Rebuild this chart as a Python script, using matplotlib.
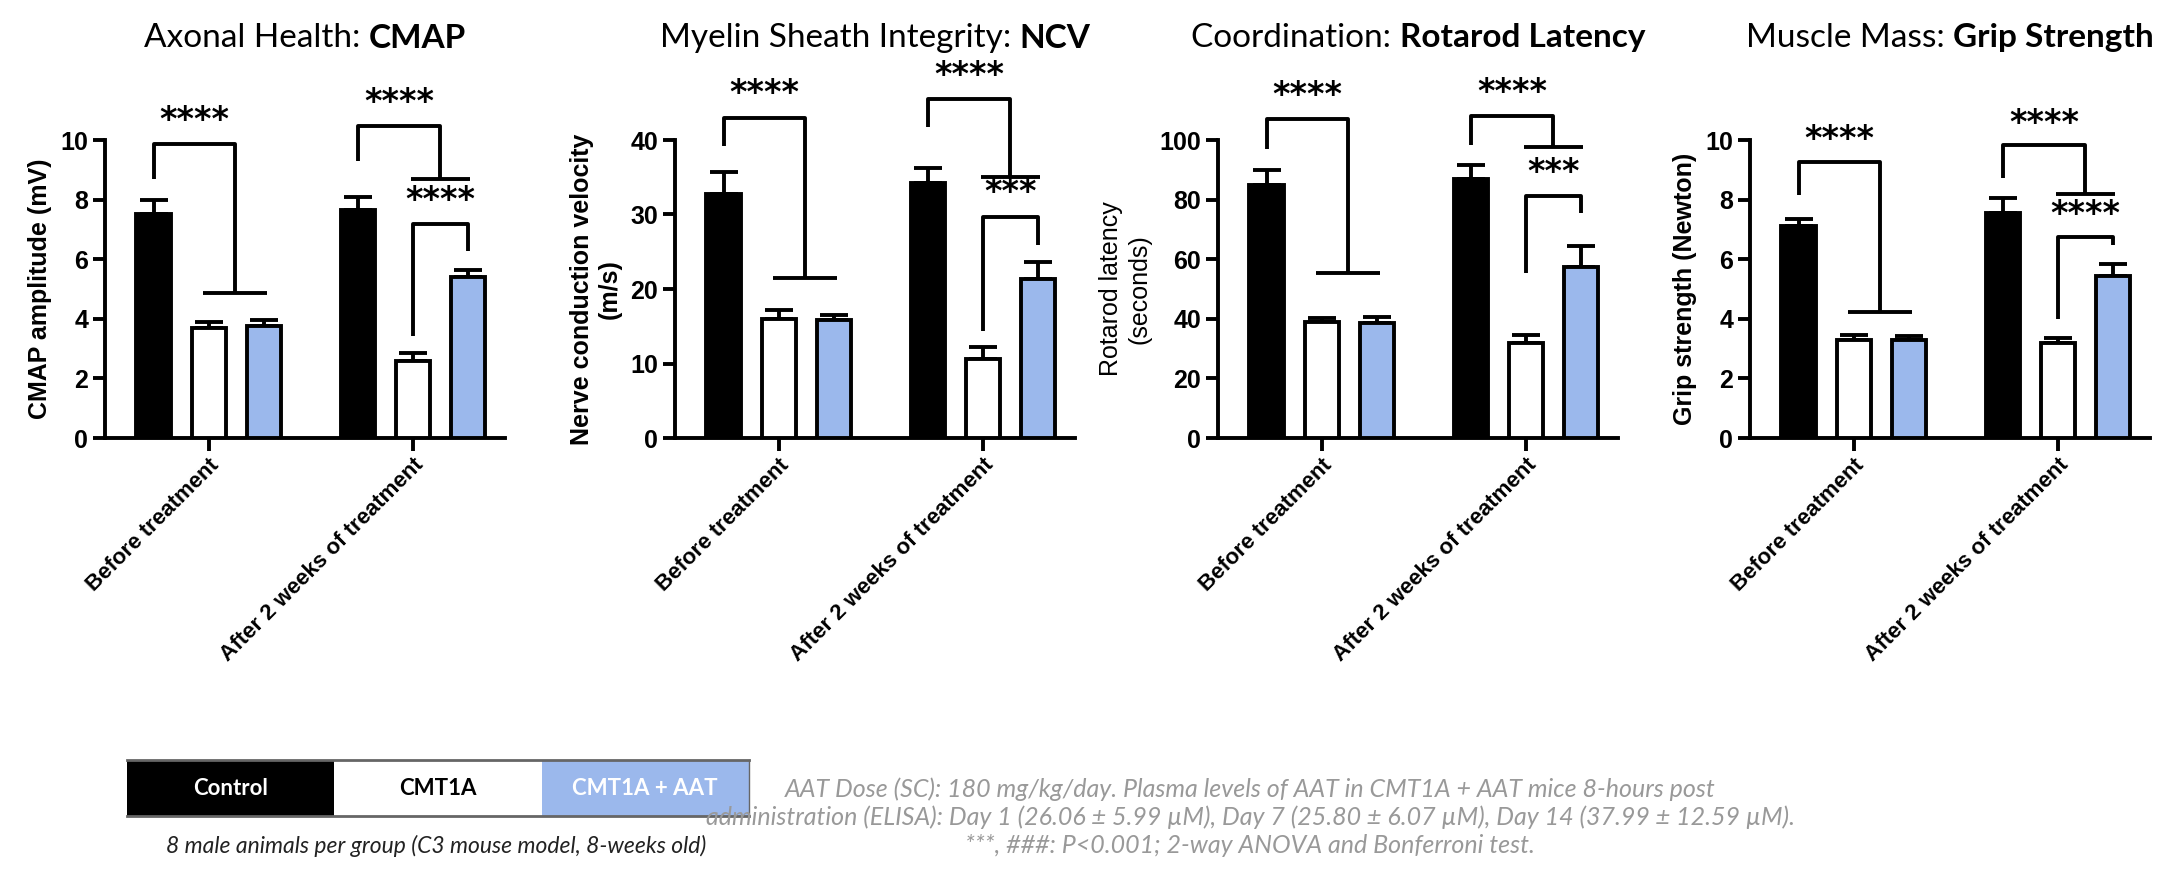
import matplotlib
matplotlib.use("Agg")
import matplotlib.pyplot as plt
from matplotlib.patches import Rectangle
import numpy as np

groups = ["Before treatment", "After 2 weeks of treatment"]
series = ["Control", "CMT1A", "CMT1A + AAT"]
colors = ["black", "white", "#9bb8ec"]

# means and (upper) SEM per panel, [before, after] x [control, cmt1a, cmt1a+aat]
cmap_mean = [[7.5, 3.7, 3.75], [7.65, 2.6, 5.4]]
cmap_err = [[0.5, 0.2, 0.2], [0.45, 0.25, 0.25]]
ncv_mean = [[32.7, 16.0, 15.8], [34.2, 10.6, 21.3]]
ncv_err = [[3.0, 1.2, 0.7], [2.1, 1.6, 2.3]]
rot_mean = [[85, 38.8, 38.5], [87, 32, 57.5]]
rot_err = [[5, 1.6, 2.0], [4.5, 2.5, 7.0]]
grip_mean = [[7.1, 3.3, 3.3], [7.55, 3.2, 5.45]]
grip_err = [[0.25, 0.15, 0.12], [0.5, 0.15, 0.4]]

panels = [
    dict(pre="Axonal Health: ", bold="CMAP", ylabel="CMAP amplitude (mV)",
         ylw="bold", ymax=10, ticks=[0, 2, 4, 6, 8, 10],
         mean=cmap_mean, err=cmap_err,
         # bracket levels: g1 leg, top, drop, stars | g2 leg, top, drop, stars | inner left, top, right, stars
         b1=[8.7, 9.87, 4.86, 10.1], b2=[9.3, 10.47, 8.69, 10.7],
         b3=[3.41, 7.18, 6.26, 7.4], s3="****"),
    dict(pre="Myelin Sheath Integrity: ", bold="NCV",
         ylabel="Nerve conduction velocity\n(m/s)", ylw="bold", ymax=40,
         ticks=[0, 10, 20, 30, 40], mean=ncv_mean, err=ncv_err,
         b1=[39.2, 43.0, 21.5, 44.0], b2=[41.7, 45.5, 35.1, 46.5],
         b3=[14.3, 29.7, 25.9, 30.7], s3="***"),
    dict(pre="Coordination: ", bold="Rotarod Latency",
         ylabel="Rotarod latency\n(seconds)", ylw="normal", ymax=100,
         ticks=[0, 20, 40, 60, 80, 100], mean=rot_mean, err=rot_err,
         b1=[97, 107, 55.5, 109.5], b2=[98.2, 108, 97.8, 110.5],
         b3=[55.5, 81.3, 75.6, 83.5], s3="***"),
    dict(pre="Muscle Mass: ", bold="Grip Strength",
         ylabel="Grip strength (Newton)", ylw="bold", ymax=10,
         ticks=[0, 2, 4, 6, 8, 10], mean=grip_mean, err=grip_err,
         b1=[8.14, 9.27, 4.22, 9.45], b2=[8.73, 9.82, 8.19, 10.0],
         b3=[3.98, 6.75, 6.46, 6.95], s3="****"),
]

W, H = 2166, 872
fig = plt.figure(figsize=(W / 100, H / 100), dpi=100)
lefts = [105, 675, 1218, 1750]
ax_w = 400
centers = [0.0, 3.7]
bw = 0.62
lw = 2.8


def bracket(ax, xs, ys):
    ax.plot(xs, ys, color="black", lw=lw, clip_on=False, solid_capstyle="butt")


for p, left in zip(panels, lefts):
    ax = fig.add_axes([left / W, 1 - 438 / H, ax_w / W, 298 / H])
    for gi, c in enumerate(centers):
        for si in range(3):
            x = c + si - 1
            m = p["mean"][gi][si]
            e = p["err"][gi][si]
            ax.bar(x, m, width=bw, color=colors[si], edgecolor="black", lw=lw,
                   zorder=3)
            ax.errorbar(x, m, yerr=[[0], [e]], color="black", lw=lw,
                        capsize=10, capthick=lw, zorder=2)
    ymax = p["ymax"]
    ax.set_ylim(0, ymax)
    ax.set_xlim(-1.88, 5.37)
    ax.set_yticks(p["ticks"])
    ax.set_xticks(centers)
    ax.set_xticklabels(groups, rotation=45, ha="right", rotation_mode="anchor",
                       fontsize=16, fontweight="bold", family="Liberation Sans")
    for lab in ax.get_yticklabels():
        lab.set_fontsize(18)
        lab.set_fontweight("bold")
        lab.set_family("Liberation Sans")
    ax.tick_params(width=lw, length=9, direction="out", pad=3)
    ax.set_ylabel(p["ylabel"], fontsize=18, fontweight=p["ylw"],
                  family="Liberation Sans", labelpad=6)
    for s in ["top", "right"]:
        ax.spines[s].set_visible(False)
    for s in ["left", "bottom"]:
        ax.spines[s].set_linewidth(lw)

    # significance brackets
    c1, c2 = centers
    leg, top, drop, st = p["b1"]
    bracket(ax, [c1 - 1, c1 - 1, c1 + 0.47, c1 + 0.47], [leg, top, top, drop])
    bracket(ax, [c1 - 0.1, c1 + 1.05], [drop, drop])
    ax.text((c1 - 1 + c1 + 0.47) / 2, st, "****", ha="center", va="bottom",
            fontsize=24, fontweight="bold", clip_on=False)
    leg, top, drop, st = p["b2"]
    bracket(ax, [c2 - 1, c2 - 1, c2 + 0.5, c2 + 0.5], [leg, top, top, drop])
    bracket(ax, [c2 - 0.03, c2 + 1.03], [drop, drop])
    ax.text((c2 - 1 + c2 + 0.5) / 2, st, "****", ha="center", va="bottom",
            fontsize=24, fontweight="bold", clip_on=False)
    lo, top, ro, st = p["b3"]
    bracket(ax, [c2, c2, c2 + 1, c2 + 1], [lo, top, top, ro])
    ax.text(c2 + 0.5, st, p["s3"], ha="center", va="bottom",
            fontsize=24, fontweight="bold", clip_on=False)

    # title: regular part + bold part
    fig.canvas.draw()
    cx = (left + ax_w / 2) / W
    t1 = fig.text(0, 1 - 38 / H, p["pre"], fontsize=24, family="Lato",
                  va="center", ha="left")
    t2 = fig.text(0, 1 - 38 / H, p["bold"], fontsize=24, family="Lato",
                  fontweight="bold", va="center", ha="left")
    r = fig.canvas.get_renderer()
    w1 = t1.get_window_extent(r).width
    w2 = t2.get_window_extent(r).width
    x0 = cx * W - (w1 + w2) / 2
    t1.set_x(x0 / W)
    t2.set_x((x0 + w1) / W)

# legend box
lx, ly, cw, ch = 127, 760, 207.3, 56
leg_txt = ["white", "black", "white"]
for i in range(3):
    fig.patches.append(Rectangle(((lx + i * cw) / W, 1 - (ly + ch) / H), cw / W,
                                 ch / H, transform=fig.transFigure,
                                 facecolor=colors[i], edgecolor="none"))
    fig.text((lx + (i + 0.5) * cw) / W, 1 - (ly + ch / 2) / H, series[i],
             color=leg_txt[i], fontsize=16, fontweight="bold", family="Lato",
             ha="center", va="center")
for yy in [ly, ly + ch]:
    fig.add_artist(plt.Line2D([lx / W, (lx + 3 * cw) / W],
                              [1 - yy / H, 1 - yy / H], color="#666666",
                              lw=2, transform=fig.transFigure))
fig.add_artist(plt.Line2D([(lx + 3 * cw) / W] * 2, [1 - ly / H, 1 - (ly + ch) / H],
                          color="#666666", lw=1, transform=fig.transFigure))
fig.text(436 / W, 1 - 846 / H,
         "8 male animals per group (C3 mouse model, 8-weeks old)",
         fontsize=16.5, style="italic", color="#222222", family="Lato",
         ha="center", va="center")

note = ["AAT Dose (SC): 180 mg/kg/day. Plasma levels of AAT in CMT1A + AAT mice 8-hours post",
        "administration (ELISA): Day 1 (26.06 ± 5.99 µM), Day 7 (25.80 ± 6.07 µM), Day 14 (37.99 ± 12.59 µM).",
        "***, ###: P<0.001; 2-way ANOVA and Bonferroni test."]
for i, line in enumerate(note):
    fig.text(1250 / W, 1 - (789 + 28 * i) / H, line, fontsize=18,
             style="italic", color="#999999", family="Lato",
             ha="center", va="center")

fig.savefig("out.png", dpi=100, facecolor="white")
